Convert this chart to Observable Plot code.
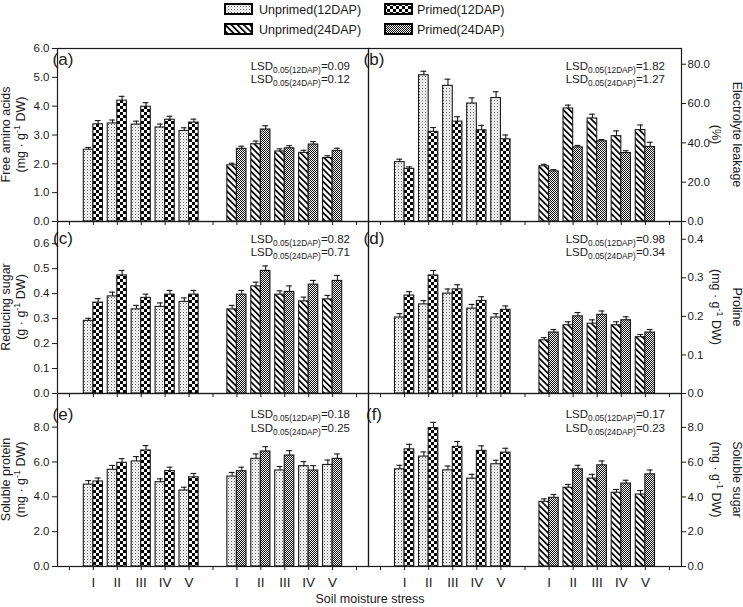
<!DOCTYPE html>
<html><head><meta charset="utf-8">
<script src="https://cdn.jsdelivr.net/npm/d3@7"></script>
<script src="https://cdn.jsdelivr.net/npm/@observablehq/plot@0.6"></script>
<style>
body{margin:0;background:#fff;}
#chart{position:relative;width:743px;height:607px;font-family:"Liberation Sans",Arial,sans-serif;color:#222;overflow:hidden;background:#fff}
#chart svg{position:absolute}
</style></head><body>
<svg width="0" height="0" style="position:absolute"><defs>
 <pattern id="dots" patternUnits="userSpaceOnUse" width="3" height="3"><rect width="3" height="3" fill="#fff"/><rect x="0" y="0" width="1" height="1" fill="#555"/><rect x="1.5" y="1.5" width="1" height="1" fill="#999"/></pattern>
 <pattern id="checker" patternUnits="userSpaceOnUse" width="6" height="6"><rect width="6" height="6" fill="#fff"/><rect width="3" height="3" fill="#000"/><rect x="3" y="3" width="3" height="3" fill="#000"/></pattern>
 <pattern id="fine" patternUnits="userSpaceOnUse" width="2" height="2"><rect width="2" height="2" fill="#fff"/><rect width="1" height="1" fill="#111"/><rect x="1" y="1" width="1" height="1" fill="#111"/></pattern>
 <pattern id="hatch" patternUnits="userSpaceOnUse" width="4.4" height="4.4" patternTransform="rotate(-45)"><rect width="4.4" height="4.4" fill="#fff"/><rect width="1.7" height="4.4" fill="#000"/></pattern>
</defs></svg>
<div id="chart"></div>
<script>
// ---------- data ----------
const categories = ["I", "II", "III", "IV", "V"];
const seriesNames = ["Unprimed(12DAP)", "Primed(12DAP)", "Unprimed(24DAP)", "Primed(24DAP)"];
const xTickPositions = [0,1,2,3,4,5,6,7,8,9,10,11,12];

// (a) Free amino acids
const faaU12 = [2.49, 3.40, 3.36, 3.26, 3.14], faaU12Err = [0.08, 0.12, 0.12, 0.12, 0.11];
const faaP12 = [3.37, 4.19, 3.98, 3.53, 3.43], faaP12Err = [0.13, 0.15, 0.14, 0.12, 0.12];
const faaU24 = [1.95, 2.68, 2.43, 2.38, 2.20], faaU24Err = [0.07, 0.11, 0.09, 0.09, 0.08];
const faaP24 = [2.52, 3.19, 2.54, 2.67, 2.45], faaP24Err = [0.09, 0.13, 0.09, 0.10, 0.09];
const faaTicks = [0, 1, 2, 3, 4, 5, 6];
// (b) Electrolyte leakage
const elU12 = [30.2, 74.4, 69.0, 60.0, 62.8], elU12Err = [1.5, 2.0, 3.4, 2.9, 3.2];
const elP12 = [26.8, 45.6, 50.8, 46.4, 41.8], elP12Err = [1.0, 2.2, 2.5, 2.5, 2.2];
const elU24 = [28.1, 57.5, 52.4, 43.4, 46.5], elU24Err = [1.0, 1.7, 2.2, 2.7, 2.6];
const elP24 = [25.5, 37.7, 40.8, 34.8, 37.9], elP24Err = [0.9, 1.0, 0.9, 1.2, 2.4];
const elTicks = [0, 20, 40, 60, 80];
// (c) Reducing sugar
const rsU12 = [0.291, 0.389, 0.337, 0.347, 0.367], rsU12Err = [0.010, 0.017, 0.016, 0.016, 0.016];
const rsP12 = [0.364, 0.473, 0.383, 0.396, 0.396], rsP12Err = [0.016, 0.020, 0.015, 0.017, 0.017];
const rsU24 = [0.337, 0.429, 0.396, 0.369, 0.377], rsU24Err = [0.016, 0.017, 0.015, 0.017, 0.016];
const rsP24 = [0.396, 0.491, 0.407, 0.436, 0.451], rsP24Err = [0.017, 0.020, 0.024, 0.017, 0.022];
const rsTicks = [0, 0.1, 0.2, 0.3, 0.4, 0.5, 0.6];
// (d) Proline
const prU12 = [0.197, 0.231, 0.259, 0.220, 0.197], prU12Err = [0.010, 0.010, 0.012, 0.011, 0.010];
const prP12 = [0.254, 0.306, 0.270, 0.240, 0.217], prP12Err = [0.010, 0.013, 0.012, 0.011, 0.010];
const prU24 = [0.138, 0.177, 0.181, 0.177, 0.146], prU24Err = [0.007, 0.009, 0.010, 0.009, 0.007];
const prP24 = [0.158, 0.200, 0.204, 0.190, 0.158], prP24Err = [0.008, 0.010, 0.010, 0.009, 0.008];
const prTicks = [0, 0.1, 0.2, 0.3, 0.4];
// (e) Soluble protein
const spU12 = [4.70, 5.55, 6.03, 4.84, 4.36], spU12Err = [0.23, 0.25, 0.28, 0.19, 0.19];
const spP12 = [4.88, 5.95, 6.66, 5.48, 5.12], spP12Err = [0.20, 0.24, 0.28, 0.22, 0.22];
const spU24 = [5.16, 6.18, 5.51, 5.76, 5.83], spU24Err = [0.24, 0.28, 0.23, 0.26, 0.28];
const spP24 = [5.47, 6.60, 6.37, 5.51, 6.18], spP24Err = [0.23, 0.28, 0.28, 0.28, 0.28];
const spTicks = [0, 2, 4, 6, 8];
// (f) Soluble sugar
const ssU12 = [5.59, 6.32, 5.53, 5.05, 5.88], ssU12Err = [0.23, 0.27, 0.25, 0.25, 0.23];
const ssP12 = [6.74, 7.96, 6.88, 6.65, 6.55], ssP12Err = [0.29, 0.33, 0.31, 0.29, 0.25];
const ssU24 = [3.72, 4.53, 5.05, 4.24, 4.14], ssU24Err = [0.17, 0.19, 0.25, 0.19, 0.23];
const ssP24 = [3.95, 5.59, 5.82, 4.77, 5.30], ssP24Err = [0.19, 0.23, 0.25, 0.19, 0.25];
const ssTicks = [0, 2, 4, 6, 8];

// ---------- layout ----------
const FONT = '"Liberation Sans", Arial, sans-serif';
const INK = "#1a1a1a";
const rowTops = [48, 221, 393], rowBots = [221, 393, 566];
const splitX = 368, rightAxisX = 681, leftAxisX = 57;

const panels = [
  {letter:"(a)", row:0, col:0, ymax:6, ticks:faaTicks, title:["Free amino acids","(mg · g^{-1} DW)"], lsd:["0.09","0.12"],
   vals:[faaU12, faaP12, faaU24, faaP24], errs:[faaU12Err, faaP12Err, faaU24Err, faaP24Err], pats:["dots","checker","hatch","fine"]},
  {letter:"(b)", row:0, col:1, ymax:88, ticks:elTicks, title:["Electrolyte leakage","(%)"], lsd:["1.82","1.27"],
   vals:[elU12, elP12, elU24, elP24], errs:[elU12Err, elP12Err, elU24Err, elP24Err], pats:["dots","checker","hatch","fine"]},
  {letter:"(c)", row:1, col:0, ymax:0.689, ticks:rsTicks, title:["Reducing sugar","(g · g^{-1} DW)"], lsd:["0.82","0.71"],
   vals:[rsU12, rsP12, rsU24, rsP24], errs:[rsU12Err, rsP12Err, rsU24Err, rsP24Err], pats:["dots","checker","hatch","fine"]},
  {letter:"(d)", row:1, col:1, ymax:0.446, ticks:prTicks, title:["Proline","(mg · g^{-1} DW)"], lsd:["0.98","0.34"],
   vals:[prU12, prP12, prU24, prP24], errs:[prU12Err, prP12Err, prU24Err, prP24Err], pats:["dots","checker","hatch","fine"]},
  {letter:"(e)", row:2, col:0, ymax:9.93, ticks:spTicks, title:["Soluble protein","(mg · g^{-1} DW)"], lsd:["0.18","0.25"],
   vals:[spU12, spP12, spU24, spP24], errs:[spU12Err, spP12Err, spU24Err, spP24Err], pats:["dots","checker","dots","fine"]},
  {letter:"(f)", row:2, col:1, ymax:9.95, ticks:ssTicks, title:["Soluble sugar","(mg · g^{-1} DW)"], lsd:["0.17","0.23"],
   vals:[ssU12, ssP12, ssU24, ssP24], errs:[ssU12Err, ssP12Err, ssU24Err, ssP24Err], pats:["dots","checker","hatch","fine"]}
];

// rich text helper: ^{sup} and _{sub}
function rich(sel, str, size) {
  const parts = str.split(/(\^\{[^}]*\}|_\{[^}]*\})/).filter(s => s !== "");
  let shift = 0;
  for (const part of parts) {
    let m, t, txt, fs = null;
    if ((m = part.match(/^\^\{(.*)\}$/))) { t = -size * 0.38; txt = m[1]; fs = size * 0.72; }
    else if ((m = part.match(/^_\{(.*)\}$/))) { t = size * 0.3; txt = m[1]; fs = size * 0.72; }
    else { t = 0; txt = part; }
    const ts = sel.append("tspan").attr("dy", t - shift).text(txt);
    if (fs) ts.attr("font-size", fs);
    shift = t;
  }
}

const chart = document.getElementById("chart");

for (const p of panels) {
  const L = p.col === 0;
  const top = rowTops[p.row], fh = rowBots[p.row] - rowTops[p.row];
  const mt = 14, mb = p.row === 2 ? 45 : 14;
  const ml = L ? leftAxisX : 0;
  const fw = L ? splitX - leftAxisX : rightAxisX - splitX;
  const width = L ? splitX : 743 - splitX;
  const mr = width - ml - fw;

  const data = [];
  p.vals.forEach((arr, s) => {
    const group = s < 2 ? 0 : 1, side = s % 2;
    arr.forEach((v, i) => {
      const pos = group * 6 + i + 1;
      const x1 = pos - 0.4 + side * 0.4;
      data.push({s, cat: categories[i], series: seriesNames[s], v, e: p.errs[s][i], x1, x2: x1 + 0.4, c: x1 + 0.2});
    });
  });

  const svg = Plot.plot({
    width, height: mt + fh + mb,
    marginTop: mt, marginBottom: mb, marginLeft: ml, marginRight: mr,
    style: {background: "transparent", overflow: "visible", fontFamily: FONT, fontSize: "11px", color: INK},
    x: {domain: [-0.5, 12.5], axis: null},
    y: {domain: [0, p.ymax], axis: null},
    marks: [
      ...[0, 1, 2, 3].map(s => Plot.rect(data.filter(d => d.s === s), {
        x1: "x1", x2: "x2", y1: 0, y2: "v", fill: `url(#${p.pats[s]})`, stroke: INK, strokeWidth: 1.1
      })),
      Plot.ruleX(data, {x: "c", y1: "v", y2: d => d.v + d.e, stroke: INK, strokeWidth: 1.1}),
      Plot.ruleY(data, {y: d => d.v + d.e, x1: d => d.c - 0.12, x2: d => d.c + 0.12, stroke: INK, strokeWidth: 1.1}),
      Plot.axisY({anchor: L ? "left" : "right", ticks: p.ticks, tickFormat: d3.format(".1f"),
                  tickSize: L ? 5 : 4, tickPadding: L ? 3 : 2, label: null, fontSize: 11.5}),
      Plot.axisX({ticks: xTickPositions, tickSize: 4, tickPadding: 7, label: null, fontSize: 13.5,
                  tickFormat: p.row === 2 ? (d => (d % 6 === 0 ? "" : categories[d % 6 - 1])) : (() => "")}),
      Plot.frame({stroke: INK, strokeWidth: 1.2})
    ]
  });
  svg.style.left = (L ? 0 : splitX) + "px";
  svg.style.top = (top - mt) + "px";

  const g = d3.select(svg).append("g").attr("font-family", FONT).attr("fill", INK);
  // panel letter
  const letterDy = [17, 23, 27][p.row];
  g.append("text").attr("x", ml + 6).attr("y", mt + letterDy).attr("font-size", 17).text(p.letter);
  // LSD annotations
  const lsdY = p.row === 2 ? [25, 39] : [22, 35];
  ["12DAP", "24DAP"].forEach((lab, k) => {
    const t = g.append("text").attr("x", ml + fw - (L ? 18 : 16)).attr("y", mt + lsdY[k])
      .attr("text-anchor", "end").attr("font-size", 11.5);
    rich(t, `LSD_{0.05(${lab})}=${p.lsd[k]}`, 11.5);
  });
  // y-axis title (two lines)
  const cy = mt + fh / 2;
  const lineX = L ? [10, 25] : [733 - splitX, 712 - splitX];
  p.title.forEach((line, k) => {
    const x = lineX[k];
    const t = g.append("text").attr("transform", `translate(${x},${cy}) rotate(${L ? -90 : 90})`)
      .attr("text-anchor", "middle").attr("dy", "0.35em").attr("font-size", 12.5);
    rich(t, line, 12.5);
  });
  chart.appendChild(svg);
}

// legend + x title overlay
const ov = d3.select(chart).append("svg").attr("width", 743).attr("height", 607)
  .style("left", "0px").style("top", "0px").attr("font-family", FONT);
const legendItems = [
  {name: seriesNames[0], pat: "dots", col: 0, row: 0},
  {name: seriesNames[1], pat: "checker", col: 1, row: 0},
  {name: seriesNames[2], pat: "hatch", col: 0, row: 1},
  {name: seriesNames[3], pat: "fine", col: 1, row: 1}
];
const legX = [225, 385], legY = [4, 24];
for (const it of legendItems) {
  const x = legX[it.col], y = legY[it.row];
  ov.append("rect").attr("x", x).attr("y", y).attr("width", 27).attr("height", 10)
    .attr("fill", `url(#${it.pat})`).attr("stroke", "#000").attr("stroke-width", 2);
  ov.append("text").attr("x", x + (it.col === 0 ? 34 : 32)).attr("y", y + 9.5)
    .attr("font-size", 12.5).attr("fill", INK).text(it.name);
}
ov.append("text").attr("x", 370).attr("y", 603).attr("text-anchor", "middle")
  .attr("font-size", 12.5).attr("fill", INK).text("Soil moisture stress");
</script>
</body></html>
